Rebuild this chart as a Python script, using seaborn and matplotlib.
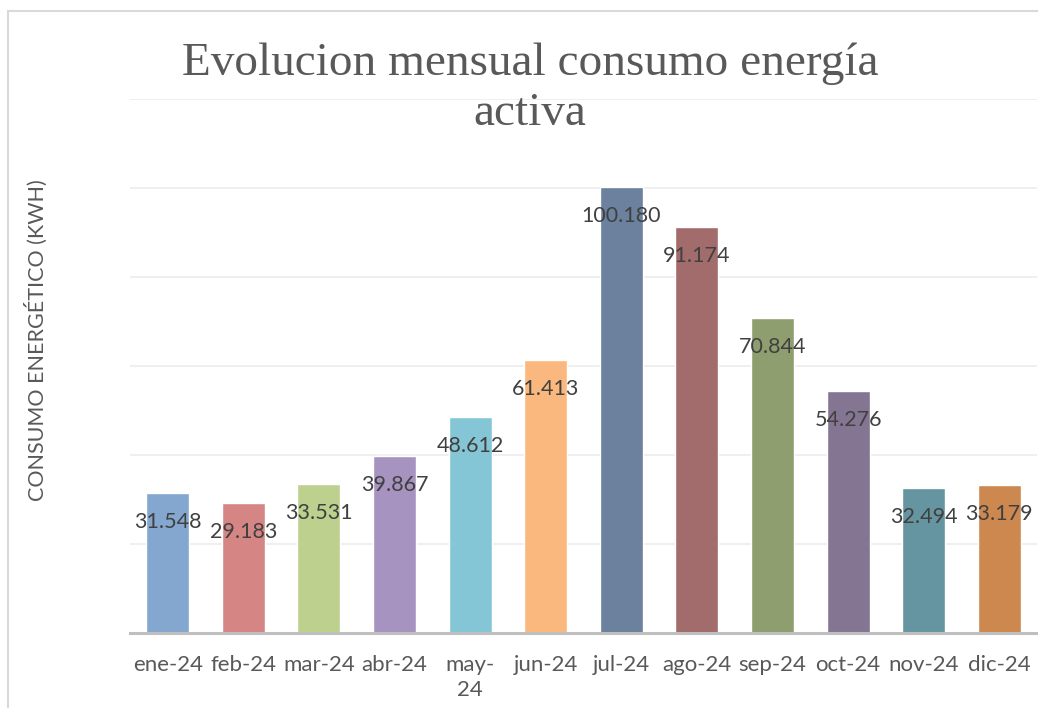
import pandas as pd
import seaborn as sns
import matplotlib.pyplot as plt
from matplotlib.patches import Rectangle

months = ["ene-24", "feb-24", "mar-24", "abr-24", "may-24", "jun-24",
          "jul-24", "ago-24", "sep-24", "oct-24", "nov-24", "dic-24"]
tick_labels = ["ene-24", "feb-24", "mar-24", "abr-24", "may-\n24", "jun-24",
               "jul-24", "ago-24", "sep-24", "oct-24", "nov-24", "dic-24"]
consumo = [31548, 29183, 33531, 39867, 48612, 61413,
           100180, 91174, 70844, 54276, 32494, 33179]
colores = ["#84A7D0", "#D68585", "#BDD08D", "#A793BF", "#85C6D6", "#FAB77E",
           "#6B819E", "#A16C6B", "#8E9E6E", "#847692", "#6695A2", "#CC884F"]

df = pd.DataFrame({"Mes": months, "Consumo": consumo})

sns.set_style("white")
plt.rcParams["font.family"] = ["Lato", "DejaVu Sans"]

fig = plt.figure(figsize=(10.38, 7.08), dpi=100)
ax = fig.add_axes([130 / 1038, 1 - 633 / 708, 907 / 1038, (633 - 99) / 708])

sns.barplot(data=df, x="Mes", y="Consumo", hue="Mes", palette=colores,
            width=0.57, saturation=1, legend=False, ax=ax)

ax.set_ylim(0, 120000)
ax.set_xlim(-0.5, 11.5)
ax.set_yticks(range(0, 120001, 20000))
ax.yaxis.grid(True, color="#ececec", linewidth=1.2)
ax.set_axisbelow(True)
ax.tick_params(axis="y", left=False, labelleft=False)
ax.tick_params(axis="x", bottom=False, pad=12)
ax.set_xticks(range(len(months)))
ax.set_xticklabels(tick_labels, fontsize=16, color="#595959", linespacing=1.35)
for s in ["top", "right", "left"]:
    ax.spines[s].set_visible(False)
ax.spines["bottom"].set_color("#bfbfbf")
ax.spines["bottom"].set_linewidth(2.2)
ax.set_xlabel("")
ax.set_ylabel("")

for i, v in enumerate(consumo):
    txt = f"{v:,}".replace(",", ".")
    ax.annotate(txt, (i, v), xytext=(0, -29), textcoords="offset pixels",
                ha="center", va="center", fontsize=15.5, color="#404040")

fig.text(36 / 1038, 1 - 340 / 708, "CONSUMO ENERGÉTICO (KWH)", rotation=90,
         ha="center", va="center", fontsize=15.5, color="#595959")

fig.text(530 / 1038, 1 - 89 / 708, "Evolucion mensual consumo energía\nactiva",
         ha="center", va="center", fontsize=34, color="#595959",
         family=["Liberation Serif", "DejaVu Serif"], linespacing=1.22)

fig.patches.append(Rectangle((8 / 1038, -0.1), 1.2, 1.1 - 11 / 708,
                             transform=fig.transFigure, fill=False,
                             edgecolor="#d9d9d9", linewidth=1.5))

fig.savefig("out.png", dpi=100)
